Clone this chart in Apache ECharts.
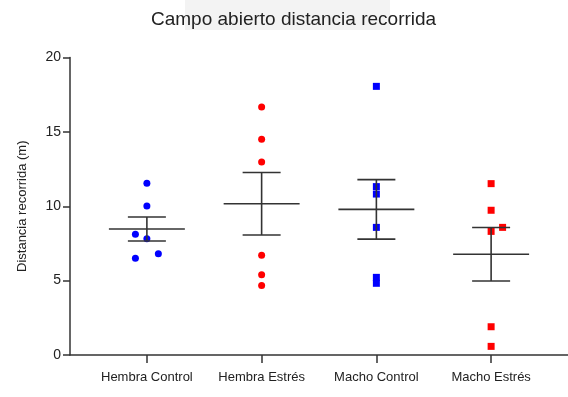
<!DOCTYPE html>
<html>
<head>
<meta charset="utf-8">
<script src="https://cdn.jsdelivr.net/npm/echarts@6/dist/echarts.min.js"></script>
<style>
  html, body { margin: 0; padding: 0; background: #fff; }
  #chart { width: 568px; height: 397px; }
</style>
</head>
<body>
<div id="chart"></div>
<script>
const categories = ['Hembra Control', 'Hembra Estrés', 'Macho Control', 'Macho Estrés']

// individual points per group
const hembraControl = [11.54, 10.02, 8.11, 7.82, 6.81, 6.50]
const hembraEstres = [16.67, 14.50, 12.97, 6.70, 5.40, 4.68]
const machoControl = [18.06, 11.32, 10.82, 8.58, 5.22, 4.82]
const machoEstres = [11.52, 9.73, 8.31, 8.58, 1.90, 0.58]

// horizontal scatter offsets within each group
const hcJitter = [0, 0, -0.1, 0, 0.1, -0.1]
const heJitter = [0, 0, 0, 0, 0, 0]
const mcJitter = [0, 0, 0, 0, 0, 0]
const meJitter = [0, 0, 0, 0.1, 0, 0]

// mean and SEM
const means = [8.47, 10.17, 9.79, 6.77]
const sems = [0.81, 2.1, 2.0, 1.8]

const chart = echarts.init(document.getElementById('chart'))

const toPoints = (vals, jit, idx) => vals.map((v, i) => [idx + 1 + jit[i], v])

const axisColor = '#333'
const font = '"Liberation Sans", Arial, sans-serif'

const option = {
  backgroundColor: '#fff',
  animation: false,
  graphic: [
    { type: 'rect', left: 185, top: 0, shape: { width: 205, height: 30 }, style: { fill: '#f3f3f3' }, z: -10 }
  ],
  title: {
    text: 'Campo abierto distancia recorrida',
    left: 146,
    top: 5,
    textStyle: { fontSize: 19, fontWeight: 'normal', color: '#222', fontFamily: font }
  },
  grid: { left: 70, right: 0, top: 57.5, bottom: 42 },
  xAxis: {
    type: 'value',
    min: 0.33,
    max: 4.67,
    splitLine: { show: false },
    axisLine: { lineStyle: { color: axisColor, width: 1.5 } },
    axisTick: { show: true, inside: false, customValues: [1, 2, 3, 4], length: 8, lineStyle: { color: axisColor, width: 1.5 } },
    axisLabel: {
      customValues: [1, 2, 3, 4],
      formatter: v => categories[Math.round(v) - 1] || '',
      color: '#222', fontSize: 13, fontFamily: font, margin: 16
    }
  },
  yAxis: {
    type: 'value',
    min: 0,
    max: 20,
    interval: 5,
    name: 'Distancia recorrida (m)',
    nameLocation: 'middle',
    nameGap: 41,
    nameTextStyle: { fontSize: 13, color: '#222', fontFamily: font },
    splitLine: { show: false },
    axisLine: { show: true, lineStyle: { color: axisColor, width: 1.5 } },
    axisTick: { show: true, inside: false, length: 7, lineStyle: { color: axisColor, width: 1.5 } },
    axisLabel: { color: '#222', fontSize: 14, fontFamily: font, margin: 9 }
  },
  series: [
    { type: 'scatter', symbol: 'circle', symbolSize: 7, itemStyle: { color: '#0000ff', opacity: 1 }, data: toPoints(hembraControl, hcJitter, 0) },
    { type: 'scatter', symbol: 'circle', symbolSize: 7, itemStyle: { color: '#ff0000', opacity: 1 }, data: toPoints(hembraEstres, heJitter, 1) },
    { type: 'scatter', symbol: 'rect', symbolSize: 7, itemStyle: { color: '#0000ff', opacity: 1 }, data: toPoints(machoControl, mcJitter, 2) },
    { type: 'scatter', symbol: 'rect', symbolSize: 7, itemStyle: { color: '#ff0000', opacity: 1 }, data: toPoints(machoEstres, meJitter, 3) },
    {
      type: 'custom',
      z: 5,
      data: means.map((m, i) => [i + 1, m, sems[i]]),
      renderItem: (params, api) => {
        const x = api.value(0)
        const m = api.value(1)
        const s = api.value(2)
        const meanL = api.coord([x - 0.331, m])
        const meanR = api.coord([x + 0.331, m])
        const top = api.coord([x, m + s])
        const bot = api.coord([x, m - s])
        const capW = 19
        const style = { stroke: '#333', lineWidth: 1.6 }
        return {
          type: 'group',
          children: [
            { type: 'line', shape: { x1: meanL[0], y1: meanL[1], x2: meanR[0], y2: meanR[1] }, style },
            { type: 'line', shape: { x1: top[0], y1: top[1], x2: bot[0], y2: bot[1] }, style },
            { type: 'line', shape: { x1: top[0] - capW, y1: top[1], x2: top[0] + capW, y2: top[1] }, style },
            { type: 'line', shape: { x1: bot[0] - capW, y1: bot[1], x2: bot[0] + capW, y2: bot[1] }, style }
          ]
        }
      }
    }
  ]
}

chart.setOption(option)
</script>
</body>
</html>
